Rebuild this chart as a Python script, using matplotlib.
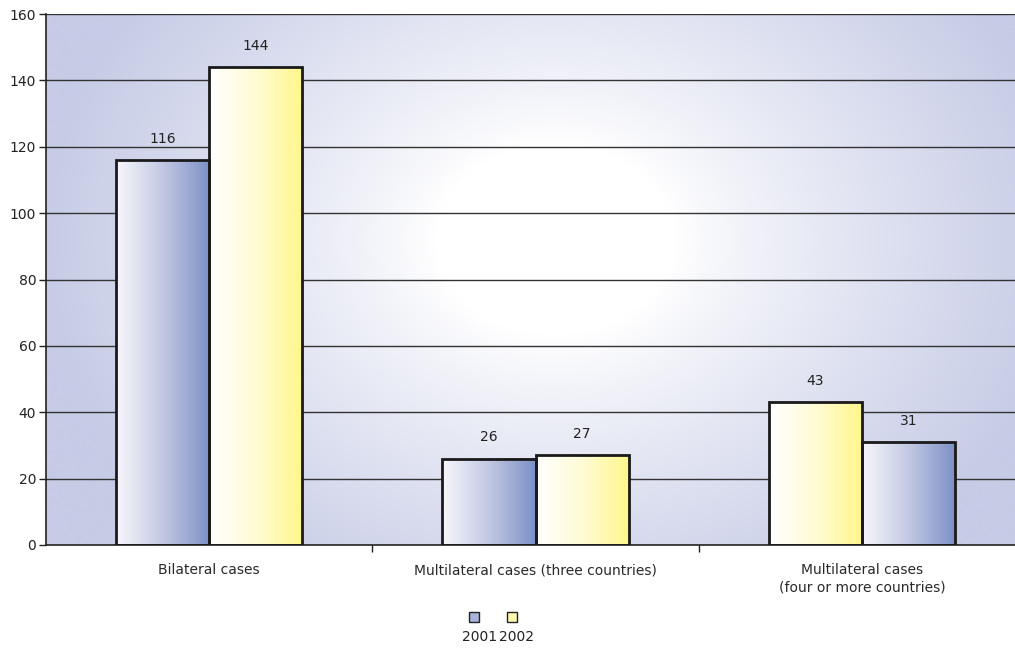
import numpy as np
import matplotlib
matplotlib.use("Agg")
import matplotlib.pyplot as plt
from matplotlib.colors import LinearSegmentedColormap

categories = ["Bilateral cases", "Multilateral cases (three countries)",
              "Multilateral cases\n(four or more countries)"]
# per category, bars left to right: (value, series)
left_vals = [116, 26, 43]
left_series = ["2001", "2001", "2002"]
right_vals = [144, 27, 31]
right_series = ["2002", "2002", "2001"]
series_names = ["2001", "2002"]
yticks = [0, 20, 40, 60, 80, 100, 120, 140, 160]

W, H = 1015, 648
fig = plt.figure(figsize=(W / 100, H / 100), dpi=100)
fig.patch.set_facecolor("white")
ax = fig.add_axes([46 / W, (H - 545) / H, (1025 - 46) / W, (545 - 14) / H])
ax.set_xlim(-0.5, 2.5)
ax.set_ylim(0, 160)

# radial background
nx, ny = 400, 300
xs = np.linspace(46, 1025, nx)
ys = np.linspace(14, 545, ny)
X, Y = np.meshgrid(xs, ys)
r = np.sqrt(((X - 555) / 1.0) ** 2 + ((Y - 240) / 0.8) ** 2)
t = np.clip((r - 120) / 400, 0, 1) ** 0.85
edge = np.array([0xC6, 0xCB, 0xE6]) / 255
white = np.array([1, 1, 1])
img = white[None, None, :] * (1 - t[..., None]) + edge[None, None, :] * t[..., None]
ax.imshow(img, extent=(-0.5, 2.5, 0, 160), aspect="auto", zorder=0,
          origin="upper", interpolation="bilinear")

for yv in yticks[1:]:
    ax.axhline(yv, color="#333333", lw=1.0, zorder=1)

cmaps = {
    "2001": LinearSegmentedColormap.from_list("b", ["#F7F7FB", "#C2C8E3", "#7C90C6"]),
    "2002": LinearSegmentedColormap.from_list("y", ["#FFFFFF", "#FFFBD5", "#FFF68A"]),
}
grad = np.linspace(0, 1, 256)[None, :]

x = np.arange(len(categories))
bw = 0.285
for vals, sers, off in [(left_vals, left_series, -bw / 2), (right_vals, right_series, bw / 2)]:
    bars = ax.bar(x + off, vals, width=bw, facecolor="none", edgecolor="#1a1a1a",
                  linewidth=2.0, zorder=3)
    for b, v, s in zip(bars, vals, sers):
        x0, y0 = b.get_x(), b.get_y()
        ax.imshow(grad, cmap=cmaps[s], extent=(x0, x0 + b.get_width(), y0, y0 + v),
                  aspect="auto", zorder=2, interpolation="bilinear")
        ax.text(x0 + b.get_width() / 2, v + 4.3, str(v), ha="center", va="bottom",
                fontsize=10, color="#222222", zorder=4)
ax.set_xlim(-0.5, 2.5)
ax.set_ylim(0, 160)

for sp in ["top", "right"]:
    ax.spines[sp].set_visible(False)
ax.spines["left"].set_color("#222222")
ax.spines["bottom"].set_color("#222222")
ax.spines["left"].set_linewidth(1.2)
ax.spines["bottom"].set_linewidth(1.2)

ax.set_yticks(yticks)
ax.set_yticklabels([str(v) for v in yticks], fontsize=10, color="#222222")
ax.tick_params(axis="y", length=5, width=1, color="#222222", pad=2)
ax.set_xticks([0.5, 1.5])
ax.set_xticklabels(["", ""])
ax.tick_params(axis="x", length=5, width=1, color="#222222")
for i, c in enumerate(categories):
    ax.text(i, -5.5, c, ha="center", va="top", fontsize=10, color="#2a2a2a",
            linespacing=1.25)

# legend
cols = {"2001": "#A9B3DA", "2002": "#FFF8B0"}
sq_x = [469, 507]
text_x = [480, 517]
for name, sx, tx in zip(series_names, sq_x, text_x):
    fig.patches.append(plt.Rectangle((sx / W, (H - 622) / H), 10 / W, 10 / H,
                                     transform=fig.transFigure, facecolor=cols[name],
                                     edgecolor="#222222", linewidth=1.0))
    fig.text(tx / W, (H - 637) / H, name, ha="center", va="center", fontsize=10,
             color="#222222")

fig.savefig("out.png", dpi=100)
